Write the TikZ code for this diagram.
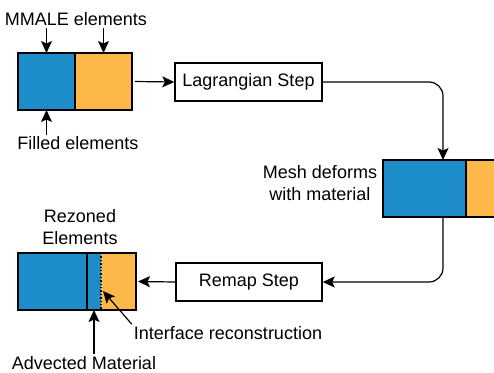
\documentclass[tikz,border=0pt]{standalone}
\usepackage{fontspec}
\setmainfont{Liberation Sans}
\usetikzlibrary{arrows.meta}

\definecolor{matblue}{RGB}{28,141,200}
\definecolor{matorange}{RGB}{252,184,72}

\tikzset{
  cell/.style={draw,line width=1.4pt,minimum height=57pt,inner sep=0pt,outer sep=0pt},
  stepbox/.style={draw,line width=1.4pt,minimum height=38pt,inner sep=0pt,
    font=\fontsize{18}{22}\selectfont},
  lbl/.style={inner sep=2pt,align=center,font=\fontsize{18}{22}\selectfont},
  arr/.style={-{Stealth[length=12pt,width=11pt,inset=2.5pt]},line width=1.2pt},
}

\begin{document}
\begin{tikzpicture}[x=1pt,y=-1pt]
  \useasboundingbox (0,0) rectangle (494,372);
  \clip (0,0) rectangle (494,372);

  % initial mesh
  \node[cell,fill=matblue,minimum width=57pt] (topBlue) at (46.5,81.5) {};
  \node[cell,fill=matorange,minimum width=57pt,anchor=west] (topOrange) at (topBlue.east) {};
  \node[lbl] (mmale) at (76,19) {MMALE elements};
  \node[lbl] (filled) at (78,143.5) {Filled elements};
  \draw[arr] (mmale.south -| topBlue) -- (topBlue.north);
  \draw[arr] (mmale.south -| topOrange) -- (topOrange.north);
  \draw[arr] (filled.north -| topBlue) -- (topBlue.south);

  % Lagrangian step
  \node[stepbox,minimum width=147pt] (lag) at (248.5,82) {Lagrangian Step};
  \draw[arr] ([xshift=3pt]topOrange.east) -- (lag.west);

  % deformed mesh
  \node[cell,fill=matblue,minimum width=83pt] (midBlue) at (424.5,188.5) {};
  \node[cell,fill=matorange,minimum width=57pt,anchor=west] (midOrange) at (midBlue.east) {};
  \node[lbl] (deform) at (320,183) {Mesh deforms\\with material};
  \draw[arr,rounded corners=14pt] (lag.east) -| ([xshift=18.5pt]midBlue.north);

  % remap step
  \node[stepbox,minimum width=146pt] (remap) at (249,282) {Remap Step};
  \draw[arr,rounded corners=14pt] ([xshift=18.5pt]midBlue.south) |- (remap.east);

  % rezoned mesh
  \node[cell,draw=none,fill=matblue,minimum width=69pt] (rezA) at (52.5,281.5) {};
  \node[cell,draw=none,fill=matblue,minimum width=14pt,anchor=west] (rezB) at (rezA.east) {};
  \node[cell,draw=none,fill=matorange,minimum width=35pt,anchor=west] (rezC) at (rezB.east) {};
  \draw[line width=1.4pt] (rezA.north west) rectangle (rezC.south east);
  \draw[line width=1.2pt] (rezA.north east) -- (rezA.south east);
  \draw[line width=1.4pt,dotted] (rezB.north east) -- (rezB.south east);
  \draw[arr] (remap.west) -- ([xshift=2pt]rezC.east);

  \node[lbl] (rezoned) at (80,227.5) {Rezoned\\Elements};
  \node[lbl] (advected) at (84,363) {Advected Material};
  \node[lbl] (iface) at (228,333) {Interface reconstruction};
  \coordinate (ifpt) at (103,291);
  \draw[arr] (advected.north -| rezB) -- (rezB.south);
  \draw[arr] (iface.north west) -- (ifpt);
\end{tikzpicture}
\end{document}
